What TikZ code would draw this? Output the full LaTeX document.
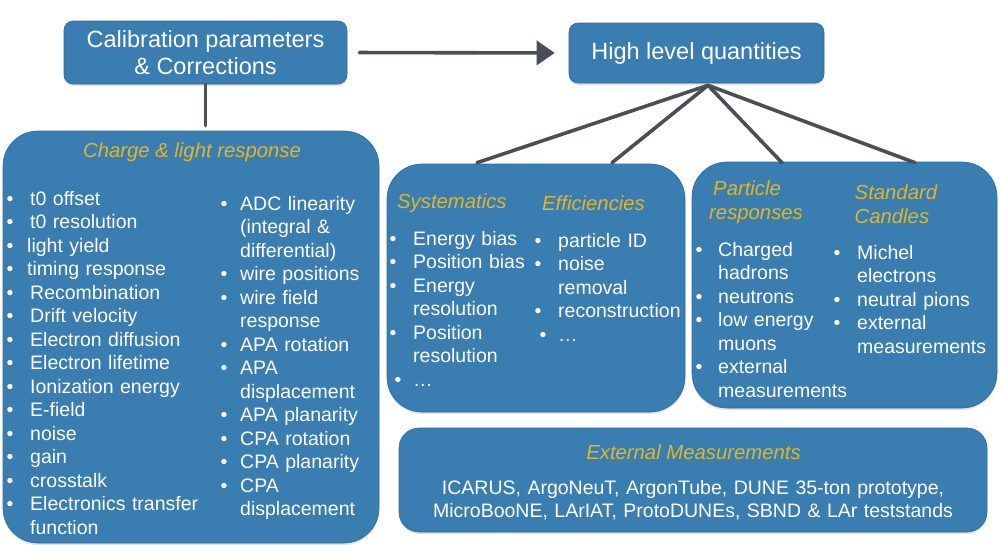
\documentclass[tikz,border=0pt]{standalone}
\usepackage{fontspec}
\setmainfont{Liberation Sans}
\usetikzlibrary{arrows.meta,shadows,calc}
\definecolor{boxblue}{HTML}{3A7DB0}
\definecolor{boxedge}{HTML}{2F6C9C}
\definecolor{titlegold}{HTML}{E0B62A}
\definecolor{conngray}{HTML}{4A4E55}
\newcommand{\myb}[1]{\makebox[#1][l]{\textbullet}}
\newcommand{\mynb}[1]{\hspace*{#1}}
\tikzset{
  box/.style={fill=boxblue, draw=boxedge, line width=0.6pt,
    drop shadow={opacity=0.22, shadow xshift=0pt, shadow yshift=-2pt}},
  conn/.style={draw=conngray, line width=3.6pt, line cap=round},
  body/.style={text=white, font=\fontsize{19.5}{23.5}\selectfont, align=left,
    inner sep=0pt, anchor=base west, text width=230pt},
  ttl/.style={text=titlegold, font=\fontsize{20.3}{24}\selectfont\itshape,
    align=left, inner sep=0pt, anchor=base west, text width=160pt},
  headtxt/.style={text=white, font=\fontsize{23.5}{28}\selectfont, align=center}
}
\begin{document}
\begin{tikzpicture}[x=1pt,y=-1pt]
\useasboundingbox[fill=white] (0,0) rectangle (1000,555);

% boxes
\node[box, rounded corners=9pt, minimum width=283pt, minimum height=63pt,
      headtxt] (cal) at (205.5,52.5) {Calibration parameters\\[-1pt]\& Corrections};
\node[box, rounded corners=9pt, minimum width=255pt, minimum height=60pt,
      headtxt] (high) at (696.5,53) {High level quantities};
\node[box, rounded corners=35pt, minimum width=376pt, minimum height=412pt] (charge) at (191,337) {};
\node[box, rounded corners=35pt, minimum width=298pt, minimum height=248pt] (sys) at (536,288) {};
\node[box, rounded corners=35pt, minimum width=305pt, minimum height=246pt] (part) at (844.5,285) {};
\node[box, rounded corners=20pt, minimum width=588pt, minimum height=104pt] (ext) at (693,480) {};

% connectors
\draw[conn, shorten <=12pt, shorten >=14pt, -{Triangle[length=18pt,width=24pt]}]
  (cal.east) -- (high.west);
\draw[conn, shorten >=5pt] (cal.south) -- (cal.south |- charge.north);
\coordinate (apex) at ($(high.south)+(11.5,2)$);
\coordinate (t1) at ($(sys.north)+(-59,-1)$);
\coordinate (t2) at ($(sys.north)+(76,-1)$);
\coordinate (t3) at ($(part.north)+(-62.5,1)$);
\coordinate (t4) at ($(part.north)+(70.5,1)$);
\draw[conn] (apex) -- (t1);
\draw[conn] (apex) -- (t2);
\draw[conn] (apex) -- (t3);
\draw[conn] (apex) -- (t4);

% Charge & light response
\node[ttl, anchor=base, text width=] (chtitle) at (192,157) {Charge \& light response};
\node[body] (chA) at (6.5,205) {%
\myb{23.5pt}t0 offset\\
\myb{23.5pt}t0 resolution\\
\myb{20.5pt}light yield\\
\myb{20.5pt}timing response\\
\myb{23.5pt}Recombination\\
\myb{23.5pt}Drift velocity\\
\myb{23.5pt}Electron diffusion\\
\myb{23.5pt}Electron lifetime\\
\myb{23.5pt}Ionization energy\\
\myb{23.5pt}E-field\\
\myb{23.5pt}noise\\
\myb{23.5pt}gain\\
\myb{23.5pt}crosstalk\\
\myb{23.5pt}Electronics transfer\\
\mynb{23.5pt}function};
\node[body] (chB) at (220.5,210) {%
\myb{19.5pt}ADC linearity\\
\mynb{19.5pt}(integral \&\\
\mynb{19.5pt}differential)\\
\myb{19.5pt}wire positions\\
\myb{19.5pt}wire field\\
\mynb{19.5pt}response\\
\myb{19.5pt}APA rotation\\
\myb{19.5pt}APA\\
\mynb{19.5pt}displacement\\
\myb{19.5pt}APA planarity\\
\myb{19.5pt}CPA rotation\\
\myb{19.5pt}CPA planarity\\
\myb{19.5pt}CPA\\
\mynb{19.5pt}displacement};

% Systematics / Efficiencies
\node[ttl] (systitle) at (397,208) {Systematics};
\node[ttl] (efftitle) at (542,210) {Efficiencies};
\node[body] (sysA) at (389.5,245) {%
\myb{23.5pt}Energy bias\\
\myb{23.5pt}Position bias\\
\myb{23.5pt}Energy\\
\mynb{23.5pt}resolution\\
\myb{23.5pt}Position\\
\mynb{23.5pt}resolution\\
\mynb{5pt}\myb{18.5pt}…};
\node[body] (effA) at (534.5,247) {%
\myb{23.5pt}particle ID\\
\myb{23.5pt}noise\\
\mynb{23.5pt}removal\\
\myb{23.5pt}reconstruction\\
\mynb{5pt}\myb{18.5pt}…};

% Particle responses / Standard candles
\node[ttl] (parttitle) at (709,195) {\hspace*{4pt}Particle\\responses};
\node[ttl] (stdtitle) at (854.5,199) {Standard\\Candles};
\node[body] (partA) at (695.5,256) {%
\myb{22.5pt}Charged\\
\mynb{22.5pt}hadrons\\
\myb{22.5pt}neutrons\\
\myb{22.5pt}low energy\\
\mynb{22.5pt}muons\\
\myb{22.5pt}external\\
\mynb{22.5pt}measurements};
\node[body] (stdA) at (833.5,259) {%
\myb{23.5pt}Michel\\
\mynb{23.5pt}electrons\\
\myb{23.5pt}neutral pions\\
\myb{23.5pt}external\\
\mynb{23.5pt}measurements};

% External measurements
\node[ttl, anchor=base, text width=] (exttitle) at (693.5,459) {External Measurements};
\node[body, anchor=base, align=center, text width=560pt] (extA) at (693,494)
  {ICARUS, ArgoNeuT, ArgonTube, DUNE 35-ton prototype,\\
   MicroBooNE, LArIAT, ProtoDUNEs, SBND \& LAr teststands};
\end{tikzpicture}
\end{document}
